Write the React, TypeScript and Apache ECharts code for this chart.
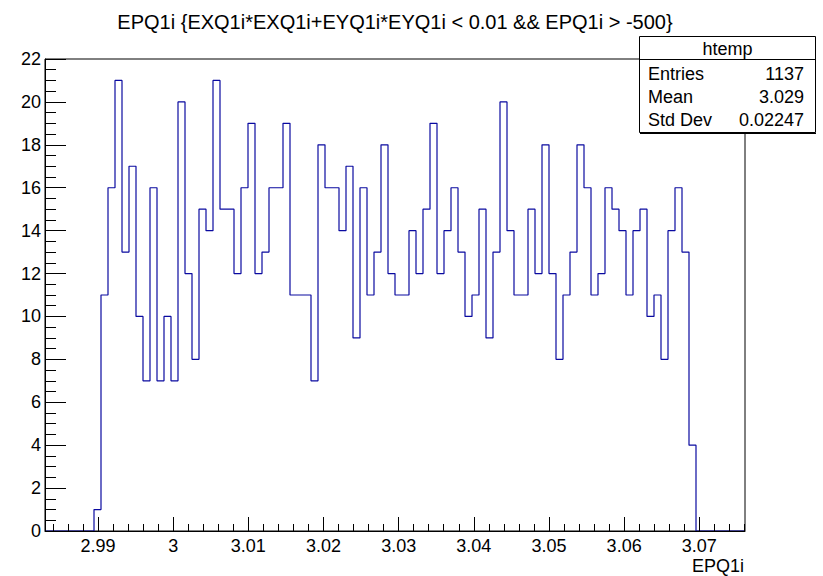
import React, { useEffect, useRef } from "react";
import * as echarts from "echarts";

// Histogram: 100 bins between xMin and xMax
const xMin = 2.98295;
const xMax = 3.07608;
const nBins = 100;
const counts = [
  0, 0, 0, 0, 0, 0, 0,
  1, 11, 16, 21, 13, 17, 10, 7, 16, 7,
  10, 7, 20, 12, 8, 15, 14, 21, 15, 15,
  12, 16, 19, 12, 13, 16, 16, 19, 11, 11,
  11, 7, 18, 16, 16, 14, 17, 9, 16, 11,
  13, 18, 12, 11, 11, 14, 12, 15, 19, 12,
  14, 16, 13, 10, 11, 15, 9, 13, 20, 14,
  11, 11, 15, 12, 18, 12, 8, 11, 13, 18,
  16, 11, 12, 16, 15, 14, 11, 14, 15, 10,
  11, 8, 14, 16, 13, 4,
  0, 0, 0, 0, 0, 0, 0,
];

const xMajorTicks = [2.99, 3.0, 3.01, 3.02, 3.03, 3.04, 3.05, 3.06, 3.07];
const xTickLabels = ["2.99", "3", "3.01", "3.02", "3.03", "3.04", "3.05", "3.06", "3.07"];
const xMinorStep = 0.002;

const titleText = "EPQ1i {EXQ1i*EXQ1i+EYQ1i*EYQ1i < 0.01 && EPQ1i > -500}";
const xAxisTitle = "EPQ1i";
const statsName = "htemp";
const statsLabels = ["Entries", "Mean", "Std Dev"];
const statsValues = ["1137", "3.029", "0.02247"];

const FONT = "'Liberation Sans', Arial, Helvetica, sans-serif";

export default function App() {
  const ref = useRef<HTMLDivElement>(null);
  useEffect(() => {
    if (!ref.current) return;
    const chart = echarts.init(ref.current, undefined, { renderer: "svg" });
    const w = (xMax - xMin) / nBins;
    const data: number[][] = counts.map((c, i) => [xMin + i * w, c]);
    data.push([xMax, counts[counts.length - 1]]);

    const minorTicks: number[] = [];
    for (let k = Math.ceil(xMin / xMinorStep); k * xMinorStep <= xMax; k++) {
      const v = +(k * xMinorStep).toFixed(4);
      if (!xMajorTicks.some((m) => Math.abs(m - v) < 1e-9)) minorTicks.push(v);
    }

    const rowsY = [74.3, 97.3, 120.3];
    const statsGraphics: any[] = [
      {
        type: "rect",
        shape: { x: 639.5, y: 36.5, width: 176, height: 96 },
        style: { fill: "#fff", stroke: "#000", lineWidth: 1 },
        z: 100,
      },
      {
        type: "line",
        shape: { x1: 640, y1: 133.5, x2: 816, y2: 133.5 },
        style: { stroke: "#000", lineWidth: 1 },
        z: 101,
      },
      {
        type: "line",
        shape: { x1: 639.5, y1: 59.5, x2: 815.5, y2: 59.5 },
        style: { stroke: "#000", lineWidth: 1 },
        z: 101,
      },
      {
        type: "text",
        x: 727.5,
        y: 48.5,
        style: { text: statsName, fontSize: 18, fontFamily: FONT, fill: "#000", textAlign: "center", textVerticalAlign: "middle" },
        z: 101,
      },
    ];
    statsLabels.forEach((lab, i) => {
      statsGraphics.push({
        type: "text",
        x: 648,
        y: rowsY[i],
        style: { text: lab, fontSize: 18, fontFamily: FONT, fill: "#000", textAlign: "left", textVerticalAlign: "middle" },
        z: 101,
      });
      statsGraphics.push({
        type: "text",
        x: 804,
        y: rowsY[i],
        style: { text: statsValues[i], fontSize: 18, fontFamily: FONT, fill: "#000", textAlign: "right", textVerticalAlign: "middle" },
        z: 101,
      });
    });

    chart.setOption({
      animation: false,
      backgroundColor: "#fff",
      grid: {
        left: 45,
        right: 78,
        top: 59,
        bottom: 45,
        show: true,
        borderColor: "#000",
        borderWidth: 1,
        containLabel: false,
      },
      xAxis: [
        {
          type: "value",
          min: xMin,
          max: xMax,
          z: 10,
          axisLine: { show: true, onZero: false, lineStyle: { color: "#000", width: 1 } },
          axisTick: {
            show: true,
            inside: true,
            length: 14,
            customValues: xMajorTicks,
            lineStyle: { color: "#000", width: 1 },
          },
          axisLabel: {
            show: true,
            customValues: xMajorTicks,
            margin: 6,
            fontSize: 18,
            fontFamily: FONT,
            color: "#000",
            formatter: (v: number) => {
              const idx = xMajorTicks.findIndex((m) => Math.abs(m - v) < 1e-9);
              return idx >= 0 ? xTickLabels[idx] : "";
            },
          },
          splitLine: { show: false },
        },
        {
          type: "value",
          min: xMin,
          max: xMax,
          position: "bottom",
          z: 10,
          axisLine: { show: false },
          axisTick: {
            show: true,
            inside: true,
            length: 7,
            customValues: minorTicks,
            lineStyle: { color: "#000", width: 1 },
          },
          axisLabel: { show: false },
          splitLine: { show: false },
        },
      ],
      yAxis: {
        type: "value",
        min: 0,
        max: 22,
        interval: 2,
        z: 10,
        axisLine: { show: true, lineStyle: { color: "#000", width: 1 } },
        axisTick: { show: true, inside: true, length: 21, lineStyle: { color: "#000", width: 1 } },
        minorTick: { show: true, splitNumber: 4, length: 11, lineStyle: { color: "#000", width: 1 } },
        axisLabel: { margin: 4, fontSize: 18, fontFamily: FONT, color: "#000" },
        splitLine: { show: false },
        minorSplitLine: { show: false },
      },
      series: [
        {
          type: "line",
          xAxisIndex: 0,
          step: "end",
          data,
          symbol: "none",
          lineStyle: { color: "#0a0aa0", width: 1.2 },
          z: 2,
        },
      ],
      graphic: [
        {
          type: "text",
          x: 395,
          y: 21.5,
          style: { text: titleText, fontSize: 20, fontFamily: FONT, fill: "#000", textAlign: "center", textVerticalAlign: "middle" },
        },
        {
          type: "text",
          x: 744,
          y: 566,
          style: { text: xAxisTitle, fontSize: 18, fontFamily: FONT, fill: "#000", textAlign: "right", textVerticalAlign: "middle" },
        },
        ...statsGraphics,
      ],
    });
    return () => chart.dispose();
  }, []);
  return (
    <div
      ref={ref}
      style={{ position: "fixed", left: 0, top: 0, width: 823, height: 576, background: "#fff" }}
    />
  );
}
